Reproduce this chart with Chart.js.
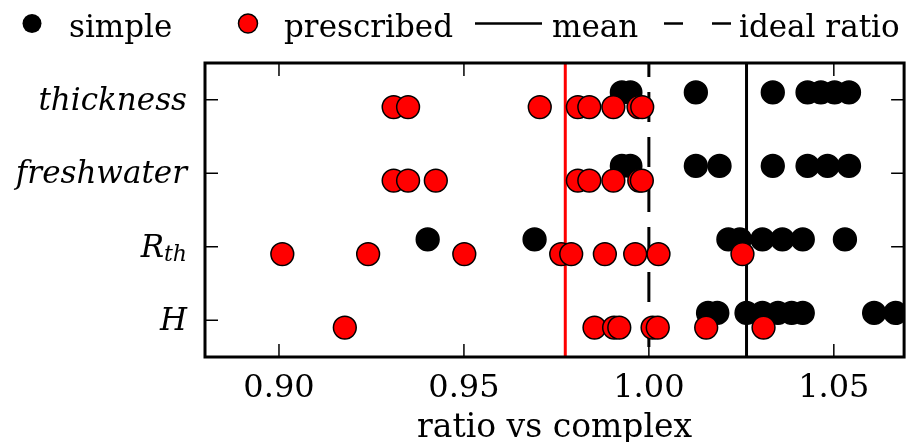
<!DOCTYPE html>
<html>
<head>
<meta charset="utf-8">
<script src="https://cdn.jsdelivr.net/npm/chart.js@4.4.1/dist/chart.umd.min.js"></script>
<style>
  html, body { margin: 0; padding: 0; background: #fff; }
  #wrap { width: 917px; height: 442px; }
</style>
</head>
<body>
<div id="wrap"><canvas id="ratio-chart"></canvas></div>
<script>
// rows from bottom to top
const categories = ['H', 'R_th', 'freshwater', 'thickness'];
const xTicks = [0.90, 0.95, 1.00, 1.05];

// ratio vs complex, "simple" runs
const simpleH = [1.0160, 1.0185, 1.0264, 1.0307, 1.0349, 1.0386, 1.0416, 1.0609, 1.0667];
const simpleRth = [0.9402, 0.9691, 1.0215, 1.0246, 1.0307, 1.0361, 1.0416, 1.0530];
const simpleFreshwater = [0.9927, 0.9950, 1.0127, 1.0191, 1.0335, 1.0429, 1.0483, 1.0541];
const simpleThickness = [0.9927, 0.9950, 1.0127, 1.0335, 1.0429, 1.0465, 1.0502, 1.0541];

// ratio vs complex, "prescribed" runs
const prescribedH = [0.9178, 0.9853, 0.9906, 0.9920, 1.0010, 1.0024, 1.0155, 1.0310];
const prescribedRth = [0.9009, 0.9241, 0.9501, 0.9763, 0.9790, 0.9881, 0.9963, 1.0026, 1.0253];
const prescribedFreshwater = [0.9310, 0.9349, 0.9424, 0.9808, 0.9839, 0.9904, 0.9974, 0.9981];
const prescribedThickness = [0.9310, 0.9349, 0.9705, 0.9808, 0.9839, 0.9904, 0.9972, 0.9982];

const meanSimple = 1.0264;
const meanPrescribed = 0.9774;
const idealRatio = 1.0;

const X_MIN = 0.88, X_MAX = 1.069;
const Y_MIN = -0.5, Y_MAX = 3.5;
const FONT = '"DejaVu Serif", serif';

function toPoints(series, shift) {
    return series.flatMap((vals, i) => vals.map(v => ({ x: v, y: i + shift })));
}

function vline(value) {
    return [{ x: value, y: Y_MIN }, { x: value, y: Y_MAX }];
}

const simplePoints = toPoints([simpleH, simpleRth, simpleFreshwater, simpleThickness], 0.1);
const prescribedPoints = toPoints([prescribedH, prescribedRth, prescribedFreshwater, prescribedThickness], -0.1);

// frame, inward ticks, math-style row labels and the legend strip
const decorations = {
    id: 'decorations',
    afterDraw(chart) {
        const { ctx, chartArea: a, scales: { x, y } } = chart;
        const seg = (x1, y1, x2, y2) => {
            ctx.beginPath();
            ctx.moveTo(x1, y1);
            ctx.lineTo(x2, y2);
            ctx.stroke();
        };
        ctx.save();
        ctx.strokeStyle = '#000';
        ctx.lineWidth = 1.5;
        xTicks.forEach(v => {
            const px = x.getPixelForValue(v);
            seg(px, a.bottom, px, a.bottom - 13);
            seg(px, a.top, px, a.top + 13);
        });
        categories.forEach((c, i) => {
            const py = y.getPixelForValue(i);
            seg(a.left, py, a.left + 13, py);
            seg(a.right, py, a.right - 13, py);
        });
        ctx.lineWidth = 3;
        ctx.strokeRect(a.left, a.top, a.right - a.left, a.bottom - a.top);

        // row labels, italic with optional subscript
        ctx.fillStyle = '#000';
        ctx.textBaseline = 'alphabetic';
        ctx.textAlign = 'left';
        categories.forEach((c, i) => {
            const [main, sub] = c.split('_');
            const py = y.getPixelForValue(i) + 10;
            const right = a.left - 18;
            ctx.font = `italic 31px ${FONT}`;
            const wMain = ctx.measureText(main).width;
            let wSub = 0;
            if (sub) {
                ctx.font = `italic 22px ${FONT}`;
                wSub = ctx.measureText(sub).width;
            }
            ctx.font = `italic 31px ${FONT}`;
            ctx.fillText(main, right - wMain - wSub, py);
            if (sub) {
                ctx.font = `italic 22px ${FONT}`;
                ctx.fillText(sub, right - wSub, py + 4);
            }
        });

        // legend
        const ly = 23.5;
        ctx.font = `31px ${FONT}`;
        ctx.beginPath();
        ctx.arc(32, ly, 9.5, 0, Math.PI * 2);
        ctx.fillStyle = '#000';
        ctx.fill();
        ctx.fillText('simple', 69, 37);

        ctx.beginPath();
        ctx.arc(248, ly, 9.5, 0, Math.PI * 2);
        ctx.fillStyle = '#ff0000';
        ctx.fill();
        ctx.lineWidth = 1.5;
        ctx.stroke();
        ctx.fillStyle = '#000';
        ctx.fillText('prescribed', 284, 37);

        ctx.lineWidth = 2.5;
        seg(475, ly, 542, ly);
        ctx.fillText('mean', 552, 37);
        seg(664, ly, 683, ly);
        seg(712, ly, 731, ly);
        ctx.fillText('ideal ratio', 739, 37);
        ctx.restore();
    }
};

const ctx = document.getElementById('ratio-chart').getContext('2d');

new Chart(ctx, {
    type: 'scatter',
    data: {
        datasets: [
            {
                label: 'simple',
                data: simplePoints,
                backgroundColor: '#000',
                borderColor: '#000',
                borderWidth: 1.5,
                pointRadius: 11.4,
                pointHoverRadius: 11.4,
                clip: 0,
                order: 2
            },
            {
                label: 'prescribed',
                data: prescribedPoints,
                backgroundColor: '#ff0000',
                borderColor: '#000',
                borderWidth: 1.5,
                pointRadius: 11.4,
                pointHoverRadius: 11.4,
                clip: 0,
                order: 1
            },
            {
                label: 'mean simple',
                data: vline(meanSimple),
                showLine: true,
                borderColor: '#000',
                borderWidth: 3,
                pointRadius: 0,
                clip: 0,
                order: 3
            },
            {
                label: 'mean prescribed',
                data: vline(meanPrescribed),
                showLine: true,
                borderColor: '#ff0000',
                borderWidth: 3,
                pointRadius: 0,
                clip: 0,
                order: 3
            },
            {
                label: 'ideal ratio',
                data: vline(idealRatio),
                showLine: true,
                borderColor: '#000',
                borderWidth: 3,
                borderDash: [30, 15],
                borderDashOffset: 35,
                pointRadius: 0,
                clip: 0,
                order: 3
            }
        ]
    },
    options: {
        responsive: true,
        maintainAspectRatio: false,
        animation: false,
        layout: {
            padding: { left: 205, right: 4, top: 63, bottom: 0 }
        },
        plugins: {
            legend: { display: false },
            tooltip: { enabled: false }
        },
        scales: {
            x: {
                type: 'linear',
                min: X_MIN,
                max: X_MAX,
                afterBuildTicks: scale => {
                    scale.ticks = xTicks.map(v => ({ value: v }));
                },
                afterFit: scale => {
                    scale.height = 85;
                },
                grid: { display: false, drawTicks: false },
                border: { display: false },
                ticks: {
                    color: '#000',
                    padding: 16,
                    font: { family: FONT, size: 32, lineHeight: 1.0 },
                    callback: v => v.toFixed(2)
                },
                title: {
                    display: true,
                    text: 'ratio vs complex',
                    color: '#000',
                    font: { family: FONT, size: 33, lineHeight: 0.8 },
                    padding: { top: 0, bottom: 0 }
                }
            },
            y: {
                type: 'linear',
                display: false,
                min: Y_MIN,
                max: Y_MAX
            }
        }
    },
    plugins: [decorations]
});
</script>
</body>
</html>
